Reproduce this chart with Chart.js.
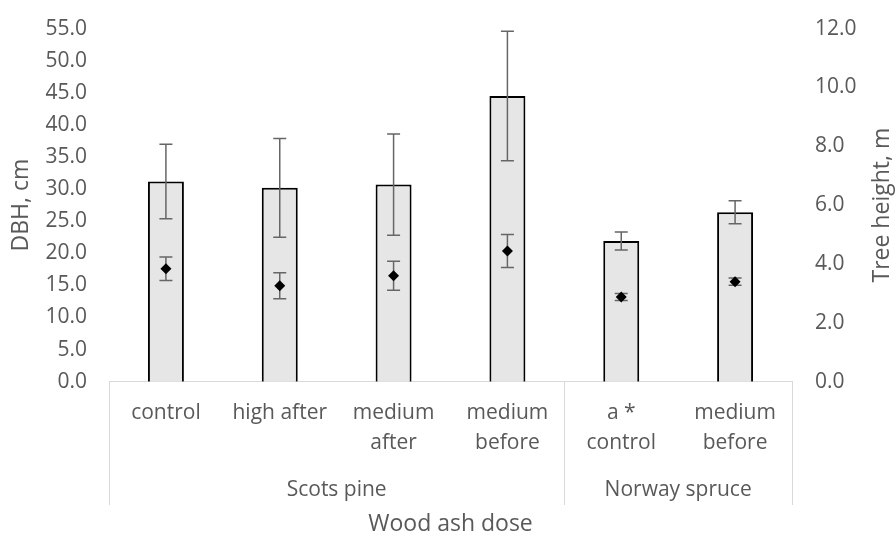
<!DOCTYPE html>
<html>
<head>
<meta charset="utf-8">
<script src="https://cdn.jsdelivr.net/npm/chart.js@4.4.1/dist/chart.umd.min.js"></script>
<style>
  html, body { margin: 0; padding: 0; background: #fff; }
  #wrap { width: 895px; height: 536px; position: relative; }
</style>
</head>
<body>
<div id="wrap"><canvas id="treeChart"></canvas></div>
<script>
const categories = [["control"], ["high after"], ["medium", "after"], ["medium", "before"], ["a *", "control"], ["medium", "before"]];
const species = ["Scots pine", "Scots pine", "Scots pine", "Scots pine", "Norway spruce", "Norway spruce"];
const dbh = [31.2, 30.2, 30.7, 44.5, 21.9, 26.4];
const dbhErr = [5.8, 7.7, 7.9, 10.1, 1.4, 1.8];
const treeHeight = [3.84, 3.26, 3.60, 4.44, 2.88, 3.40];
const treeHeightErr = [0.40, 0.44, 0.49, 0.56, 0.12, 0.12];

const textColor = '#595959';
const lineColor = '#d9d9d9';
const fontFamily = '"Open Sans", sans-serif';

// error bars + group labels + right title
const extrasPlugin = {
  id: 'extras',
  afterDatasetDraw(chart, args) {
    if (args.meta.type !== 'bar') return;
    const ctx = chart.ctx;
    const x = chart.scales.x, y = chart.scales.y, y2 = chart.scales.y2;
    ctx.save();
    ctx.strokeStyle = '#666666';
    ctx.lineWidth = 1.5;
    const cap = 6.5;
    function errBar(px, lo, hi) {
      ctx.beginPath();
      ctx.moveTo(px, lo); ctx.lineTo(px, hi);
      ctx.moveTo(px - cap, lo); ctx.lineTo(px + cap, lo);
      ctx.moveTo(px - cap, hi); ctx.lineTo(px + cap, hi);
      ctx.stroke();
    }
    dbh.forEach((v, i) => {
      const px = x.getPixelForValue(i);
      errBar(px, y.getPixelForValue(v - dbhErr[i]), y.getPixelForValue(v + dbhErr[i]));
    });
    treeHeight.forEach((v, i) => {
      const px = x.getPixelForValue(i);
      errBar(px, y2.getPixelForValue(v - treeHeightErr[i]), y2.getPixelForValue(v + treeHeightErr[i]));
    });
    ctx.restore();
  },
  afterDraw(chart) {
    const ctx = chart.ctx;
    const x = chart.scales.x;
    const area = chart.chartArea;
    const step = x.getPixelForValue(1) - x.getPixelForValue(0);
    const lineBottom = 505;
    ctx.save();
    ctx.strokeStyle = lineColor;
    ctx.lineWidth = 1;
    ctx.fillStyle = textColor;
    ctx.font = '21px ' + fontFamily;
    ctx.textAlign = 'center';
    ctx.textBaseline = 'middle';
    let start = 0;
    for (let i = 1; i <= species.length; i++) {
      if (i === species.length || species[i] !== species[start]) {
        const left = x.getPixelForValue(start) - step / 2;
        const right = x.getPixelForValue(i - 1) + step / 2;
        ctx.beginPath();
        ctx.moveTo(Math.round(left) + 0.5, area.bottom);
        ctx.lineTo(Math.round(left) + 0.5, lineBottom);
        ctx.moveTo(Math.round(right) + 0.5, area.bottom);
        ctx.lineTo(Math.round(right) + 0.5, lineBottom);
        ctx.stroke();
        ctx.fillText(species[start], (left + right) / 2, 490);
        start = i;
      }
    }
    // right axis title, reads bottom to top
    ctx.font = '23px ' + fontFamily;
    ctx.translate(882, (area.top + area.bottom) / 2);
    ctx.rotate(-Math.PI / 2);
    ctx.fillText('Tree height, m', 0, 0);
    ctx.restore();
  }
};

// keep the tick padding from pushing the plot area down
function fixVertical(width) {
  return function (scale) {
    scale.width = width;
    scale.paddingTop = 0;
    scale.paddingBottom = 0;
  };
}

new Chart(document.getElementById('treeChart'), {
  data: {
    labels: categories,
    datasets: [
      {
        type: 'bar',
        label: 'DBH',
        data: dbh,
        yAxisID: 'y',
        backgroundColor: '#e6e6e6',
        borderColor: '#000000',
        borderWidth: 2,
        barPercentage: 0.316,
        categoryPercentage: 1,
        order: 2
      },
      {
        type: 'line',
        label: 'Tree height',
        data: treeHeight,
        yAxisID: 'y2',
        showLine: false,
        pointStyle: 'rectRot',
        pointRadius: 5.5,
        pointBackgroundColor: '#000000',
        pointBorderColor: '#000000',
        pointBorderWidth: 0,
        order: 1
      }
    ]
  },
  options: {
    responsive: true,
    maintainAspectRatio: false,
    animation: false,
    layout: { padding: { top: 28.6, left: 0, right: 0, bottom: 0 } },
    plugins: {
      legend: { display: false },
      tooltip: { enabled: false }
    },
    scales: {
      x: {
        offset: true,
        grid: { display: false, drawTicks: false },
        border: { display: true, color: lineColor, width: 1 },
        ticks: {
          color: textColor,
          font: { family: fontFamily, size: 21, lineHeight: 1.4 },
          padding: 17,
          maxRotation: 0,
          autoSkip: false
        },
        title: {
          display: true,
          text: 'Wood ash dose',
          color: textColor,
          font: { family: fontFamily, size: 23 },
          padding: { top: 0, bottom: -2 }
        },
        afterFit(scale) { scale.height = 154.3; }
      },
      y: {
        position: 'left',
        min: 0,
        max: 55,
        grid: { display: false, drawTicks: false },
        border: { display: false },
        ticks: {
          stepSize: 5,
          color: textColor,
          font: { family: fontFamily, size: 21 },
          padding: 22,
          callback: v => v.toFixed(1)
        },
        title: {
          display: true,
          text: 'DBH, cm',
          color: textColor,
          font: { family: fontFamily, size: 23 },
          padding: { top: 8, bottom: 0 }
        },
        afterFit: fixVertical(109)
      },
      y2: {
        position: 'right',
        min: 0,
        max: 12,
        grid: { display: false, drawTicks: false },
        border: { display: false },
        ticks: {
          stepSize: 2,
          color: textColor,
          font: { family: fontFamily, size: 21 },
          padding: 23,
          callback: v => v.toFixed(1)
        },
        afterFit: fixVertical(103)
      }
    }
  },
  plugins: [extrasPlugin]
});
</script>
</body>
</html>
